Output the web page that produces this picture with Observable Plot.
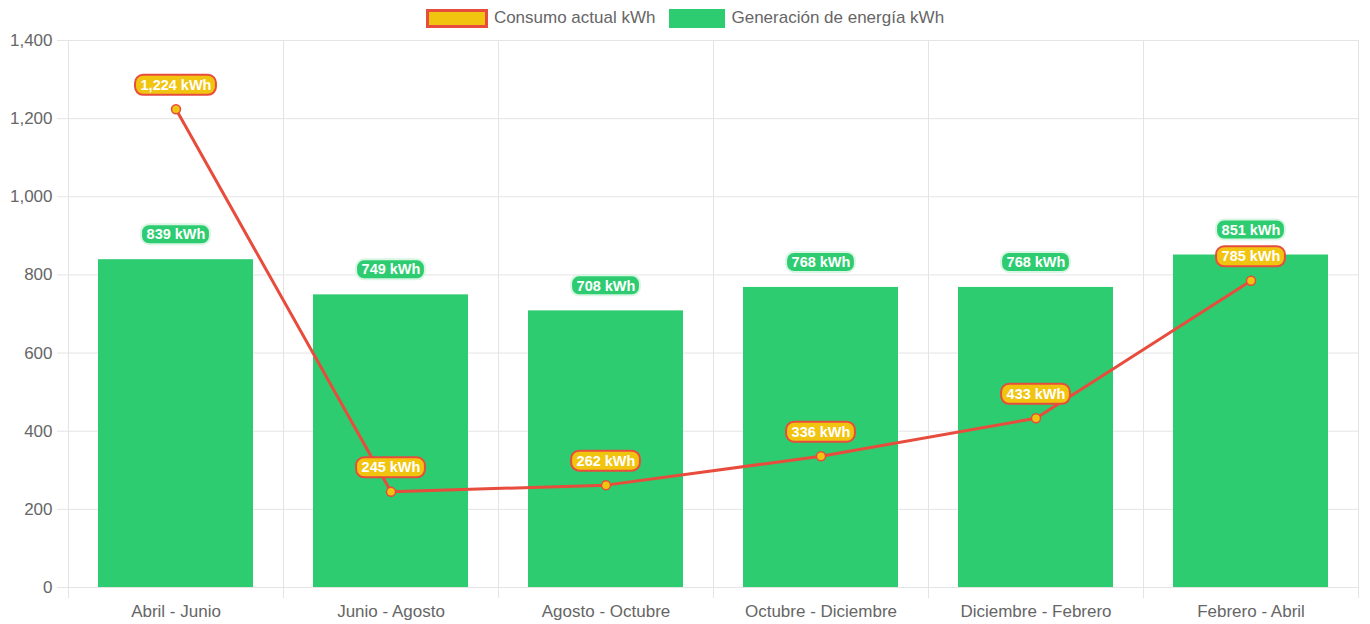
<!DOCTYPE html>
<html>
<head>
<meta charset="utf-8">
<script src="https://cdn.jsdelivr.net/npm/d3@7"></script>
<script src="https://cdn.jsdelivr.net/npm/@observablehq/plot@0.6"></script>
<style>
  html, body { margin: 0; padding: 0; background: #fff; }
  body { width: 1370px; height: 624px; overflow: hidden; font-family: "Liberation Sans", Arial, Helvetica, sans-serif; }
  #legend { height: 28px; display: flex; justify-content: center; align-items: flex-end; gap: 14px; font-size: 17px; color: #666; box-sizing: border-box; }
  .item { display: flex; align-items: center; gap: 6px; }
  .sw { box-sizing: border-box; height: 19px; }
  svg { overflow: visible; }
</style>
</head>
<body>
<div id="legend"></div>
<div id="chart"></div>
<script>
const periods = ["Abril - Junio", "Junio - Agosto", "Agosto - Octubre", "Octubre - Diciembre", "Diciembre - Febrero", "Febrero - Abril"];
const generacion = [839, 749, 708, 768, 768, 851];
const consumo = [1224, 245, 262, 336, 433, 785];
const yTicks = [0, 200, 400, 600, 800, 1000, 1200, 1400];
const seriesNames = ["Consumo actual kWh", "Generación de energía kWh"];

const RED = "#E74C3C", YELLOW = "#F1C40F", GREEN = "#2ECC71", GRID = "#e4e4e4";
const FONT = '"Liberation Sans", Arial, Helvetica, sans-serif';

// legend
const legend = document.getElementById("legend");
[[seriesNames[0], `background:${YELLOW};border:3px solid ${RED};width:62px;`],
 [seriesNames[1], `background:${GREEN};width:56px;`]].forEach(([name, st]) => {
  const it = document.createElement("div"); it.className = "item";
  const sw = document.createElement("div"); sw.className = "sw"; sw.style.cssText = st;
  const tx = document.createElement("span"); tx.textContent = name;
  it.append(sw, tx); legend.append(it);
});

const genData = periods.map((p, i) => ({period: p, value: generacion[i]}));
const conData = periods.map((p, i) => ({period: p, value: consumo[i]}));
const fmt = d3.format(",");

const W = 1370, H = 596, ML = 67, MR = 11, MT = 12, MB = 37;

const measure = (() => {
  const c = document.createElement("canvas").getContext("2d");
  c.font = `bold 14.5px ${FONT}`;
  return (s) => c.measureText(s).width;
})();

function bandCenter(sx) {
  const bw = typeof sx.bandwidth === "function" ? sx.bandwidth() : (sx.bandwidth ?? 0);
  return bw / 2;
}

function labelRender(fill, stroke, dyOff) {
  return function (index, scales, values, dimensions, context, next) {
    const g = d3.create("svg:g");
    const off = bandCenter(scales.x);
    const boxes = g.append("g");
    for (const i of index) {
      const label = values.text ? values.text[i] : "";
      const w = measure(String(label)) + 10, h = 20;
      boxes.append("rect")
        .attr("x", values.x[i] + off - w / 2)
        .attr("y", values.y[i] + dyOff - h / 2)
        .attr("width", w).attr("height", h)
        .attr("rx", 8).attr("ry", 8)
        .attr("fill", fill).attr("stroke", stroke).attr("stroke-width", 2);
    }
    const t = next(index, scales, values, dimensions, context);
    g.node().appendChild(t);
    return g.node();
  };
}

function boundaryGrid(index, scales, values, dimensions) {
  const sx = scales.x;
  const g = d3.create("svg:g").attr("stroke", GRID).attr("stroke-width", 1);
  const bw = typeof sx.bandwidth === "function" ? sx.bandwidth() : (sx.bandwidth ?? 0);
  const xs = periods.map((p) => sx(p));
  xs.push(sx(periods[periods.length - 1]) + bw);
  const top = dimensions.marginTop, bottom = dimensions.height - dimensions.marginBottom;
  for (const x of xs) {
    const px = Math.round(x) + 0.5;
    g.append("line").attr("x1", px).attr("x2", px).attr("y1", top).attr("y2", bottom + 11);
  }
  return g.node();
}

const chart = Plot.plot({
  width: W, height: H,
  marginLeft: ML, marginRight: MR, marginTop: MT, marginBottom: MB,
  style: {fontFamily: FONT, fontSize: "17px", color: "#666", background: "#fff", overflow: "visible"},
  x: {type: "band", domain: periods, padding: 0, label: null},
  y: {domain: [0, 1400], label: null},
  marks: [
    Plot.gridY(yTicks, {stroke: GRID, strokeOpacity: 1}),
    boundaryGrid,
    Plot.axisY(yTicks, {tickSize: 10, tickPadding: 5, stroke: GRID, strokeOpacity: 1, tickFormat: fmt, fill: "#666", fontSize: 17, label: null}),
    Plot.axisX({tickSize: 0, tickPadding: 17, fill: "#666", fontSize: 17, label: null}),
    Plot.barY(genData, {x: "period", y: "value", fill: GREEN, insetLeft: 30, insetRight: 30}),
    Plot.line(conData, {x: "period", y: "value", stroke: RED, strokeWidth: 3}),
    Plot.dot(conData, {x: "period", y: "value", r: 4.5, fill: YELLOW, stroke: RED, strokeWidth: 1.5}),
    Plot.text(genData, {x: "period", y: "value", text: (d) => `${fmt(d.value)} kWh`, dy: -25, fill: "white", fontWeight: "bold", fontSize: 14.5,
      render: labelRender(GREEN, "#d9f5e4", -25)}),
    Plot.text(conData, {x: "period", y: "value", text: (d) => `${fmt(d.value)} kWh`, dy: -24, fill: "white", fontWeight: "bold", fontSize: 14.5,
      render: labelRender(YELLOW, RED, -24)})
  ]
});
document.getElementById("chart").append(chart);
</script>
</body>
</html>
